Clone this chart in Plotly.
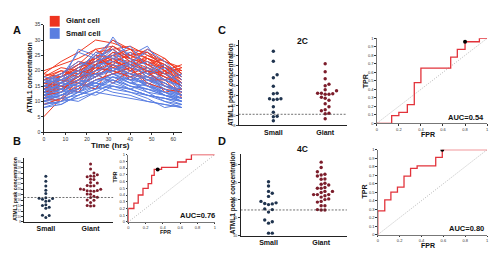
import plotly.graph_objects as go

W, H = 500, 258
def X(px): return px / W
def Y(py): return 1 - py / H

FONT = "Arial, Liberation Sans, sans-serif"
RED = "#f03a22"
BLUE = "#5b7fe2"
NAVY = "#20344f"
MAROON = "#7c1d2b"
ROCRED = "#e2333b"

# ---------- Panel A data ----------
time_hrs = [0, 8, 16, 24, 32, 40, 48, 56, 64]
giant_traces = [
    [5, 11, 17, 22, 25, 22, 20, 18, 16],
    [19, 23, 26, 30, 29, 27, 24, 22, 19],
    [20, 22, 24, 27, 28, 25, 22, 21, 20],
    [17, 19, 22, 24, 30, 27, 26, 23, 21],
    [15, 18, 20, 26, 27, 28, 25, 22, 18],
    [14, 16, 21, 23, 25, 24, 27, 24, 19],
    [13, 15, 14, 22, 19, 21, 15, 20, 17],
    [12, 14, 17, 21, 24, 23, 21, 19, 16],
    [18, 20, 19, 22, 26, 25, 23, 21, 17],
    [11, 10, 16, 14, 22, 17, 20, 13, 14],
    [16, 17, 20, 19, 23, 21, 25, 23, 20],
    [10, 12, 15, 18, 21, 19, 18, 16, 13],
    [15, 16, 19, 25, 24, 22, 20, 18, 15],
    [17, 18, 21, 23, 22, 26, 24, 22, 18],
    [12, 15, 13, 20, 26, 24, 19, 20, 11],
    [14, 17, 16, 21, 20, 22, 23, 20, 16],
    [19, 18, 21, 24, 27, 23, 24, 20, 22],
    [13, 14, 17, 19, 16, 20, 17, 17, 12],
    [16, 19, 23, 22, 25, 27, 22, 24, 19],
    [11, 16, 18, 24, 22, 20, 21, 18, 15],
    [15, 14, 18, 20, 23, 25, 26, 21, 18],
    [18, 21, 20, 23, 28, 24, 22, 19, 21],
    [12, 13, 19, 21, 20, 18, 20, 15, 14],
    [14, 18, 22, 27, 23, 22, 18, 22, 17],
    [9, 11, 14, 17, 19, 21, 16, 14, 13],
    [16, 15, 17, 22, 24, 20, 24, 21, 16],
    [13, 16, 20, 18, 22, 19, 21, 17, 19],
    [17, 20, 18, 25, 21, 23, 20, 19, 15],
]
small_traces = [
    [9, 10, 13, 17, 19, 16, 14, 12, 10],
    [10, 12, 15, 18, 22, 18, 15, 13, 11],
    [12, 14, 17, 20, 24, 20, 17, 15, 12],
    [14, 16, 27, 25, 30, 25, 28, 20, 14],
    [11, 13, 16, 14, 18, 15, 13, 10, 9],
    [15, 17, 20, 22, 27, 23, 26, 21, 15],
    [13, 15, 18, 19, 23, 21, 19, 16, 13],
    [8, 9, 12, 15, 13, 12, 10, 9, 8],
    [10, 11, 10, 13, 16, 14, 12, 11, 10],
    [12, 13, 16, 18, 20, 17, 16, 14, 11],
    [14, 15, 18, 21, 26, 22, 18, 17, 15],
    [16, 18, 21, 24, 28, 24, 22, 19, 16],
    [11, 12, 15, 16, 19, 19, 15, 13, 12],
    [9, 11, 12, 14, 15, 13, 11, 8, 9],
    [13, 14, 17, 20, 21, 18, 20, 15, 13],
    [10, 12, 14, 17, 17, 15, 14, 12, 10],
    [15, 16, 19, 21, 24, 26, 22, 18, 14],
    [12, 15, 18, 22, 19, 17, 18, 14, 12],
    [17, 19, 22, 23, 25, 21, 19, 17, 14],
    [8, 10, 11, 13, 12, 11, 10, 9, 8],
    [14, 13, 16, 19, 20, 18, 16, 13, 11],
    [11, 14, 16, 15, 18, 16, 17, 14, 12],
    [13, 12, 15, 18, 22, 20, 17, 15, 13],
    [10, 13, 17, 19, 16, 18, 15, 12, 10],
    [16, 17, 19, 22, 23, 20, 21, 17, 15],
    [12, 11, 14, 16, 14, 13, 12, 11, 9],
    [9, 10, 13, 12, 15, 14, 12, 10, 8],
    [15, 18, 20, 18, 21, 19, 17, 16, 13],
    [11, 13, 14, 17, 18, 17, 13, 12, 11],
    [13, 16, 15, 19, 20, 22, 18, 16, 12],
    [10, 9, 12, 14, 17, 15, 14, 13, 10],
    [14, 15, 17, 16, 19, 16, 15, 14, 12],
    [12, 14, 13, 15, 17, 14, 16, 12, 11],
    [17, 16, 18, 20, 22, 19, 18, 15, 14],
    [11, 12, 13, 16, 15, 14, 12, 11, 10],
    [16, 19, 23, 21, 31, 24, 20, 22, 17],
    [18, 17, 20, 26, 24, 22, 27, 23, 18],
    [13, 18, 26, 24, 27, 21, 23, 19, 16],
    [15, 14, 19, 23, 25, 28, 21, 17, 19],
    [12, 16, 21, 25, 20, 23, 19, 21, 15],
]

# ---------- Peak concentration data ----------
groups = ["Small", "Giant"]
b_small = [24.8, 23.0, 21.2, 19.7, 18.5, 16.9, 16.7, 16.6, 16.4, 15.8, 15.6, 14.3, 14.1, 13.4, 13.0, 10.5, 10.4, 9.6]
b_giant = [29.3, 27.5, 26.0, 25.4, 24.9, 24.8, 24.6, 23.7, 23.6, 22.5, 22.3, 21.3, 21.2, 21.4, 20.1, 20.0, 19.9,
           19.6, 19.5, 19.4, 19.3, 18.3, 18.2, 17.5, 17.1, 17.0, 16.1, 16.0, 15.2, 14.1, 14.0, 13.9]
b_thresh = 17.0
c_small = [22.8, 20.8, 18.1, 17.5, 15.8, 14.4, 14.3, 13.3, 13.2, 13.1, 13.3, 11.7, 10.6, 9.8, 9.7, 8.9]
c_giant = [20.3, 18.7, 17.3, 16.2, 15.9, 15.1, 14.9, 14.4, 14.3, 14.2, 14.4, 14.2, 13.6, 13.4, 13.0, 12.3, 11.7,
           11.1, 10.9, 10.4, 10.3, 9.3]
c_thresh = 10.2
d_small = [25.1, 23.9, 22.4, 21.9, 21.0, 19.6, 19.2, 19.0, 18.9, 18.7, 17.5, 17.3, 16.6, 14.4, 13.9, 13.5, 10.7, 10.7]
d_giant = [30.6, 29.1, 27.9, 27.2, 27.0, 26.7, 25.9, 25.8, 24.7, 24.4, 24.2, 23.5, 23.3, 23.3, 22.4, 22.4, 22.1,
           21.5, 21.5, 21.2, 21.5, 20.8, 20.3, 20.1, 19.6, 19.4, 18.4, 18.4, 17.3, 17.2, 17.2]
d_thresh = 17.2

# ---------- ROC data ----------
roc_b_fpr = [0, 0, 0.065, 0.115, 0.17, 0.23, 0.27, 0.30, 0.385, 0.57, 0.67, 0.73, 1]
roc_b_tpr = [0, 0.2, 0.28, 0.4, 0.5, 0.57, 0.69, 0.78, 0.81, 0.89, 0.93, 1, 1]
roc_b_opt = (0.34, 0.78)
roc_c_fpr = [0, 0.135, 0.2, 0.277, 0.34, 0.40, 0.67, 0.73, 0.80, 0.93, 1]
roc_c_tpr = [0, 0.09, 0.13, 0.22, 0.48, 0.65, 0.78, 0.87, 0.96, 1, 1]
roc_c_opt = (0.80, 0.96)
roc_d_fpr = [0, 0, 0.064, 0.12, 0.18, 0.24, 0.30, 0.36, 0.53, 0.59, 1]
roc_d_tpr = [0, 0.28, 0.41, 0.5, 0.56, 0.69, 0.78, 0.81, 0.91, 1, 1]
roc_d_opt = (0.59, 1.0)
auc_b, auc_c, auc_d = "0.76", "0.54", "0.80"


def swarm(vals, ppu_y, ppu_x, d):
    """simple beeswarm: returns x offsets (in axis units) computed from values"""
    placed = []
    offs = [0.0] * len(vals)
    order = sorted(range(len(vals)), key=lambda i: vals[i])
    cands = [0]
    for j in range(1, 40):
        cands += [j, -j]
    for i in order:
        y = vals[i] * ppu_y
        for c in cands:
            x = c * d
            if all((x - px) ** 2 + (y - py) ** 2 >= d * d * 0.95 for px, py in placed):
                placed.append((x, y))
                offs[i] = x / ppu_x
                break
    return offs


fig = go.Figure()

# ---------- Panel A ----------
n = max(len(giant_traces), len(small_traces))
for k in range(n):
    if k < len(small_traces):
        fig.add_trace(go.Scatter(x=time_hrs, y=small_traces[k], mode="lines",
                                 line=dict(color=BLUE, width=1), xaxis="x", yaxis="y",
                                 showlegend=False, hoverinfo="skip"))
    if k < len(giant_traces):
        fig.add_trace(go.Scatter(x=time_hrs, y=giant_traces[k], mode="lines",
                                 line=dict(color=RED, width=1), xaxis="x", yaxis="y",
                                 showlegend=False, hoverinfo="skip"))

# ---------- Scatter panels ----------
def add_swarm(small, giant, thresh, xa, ya, ppu_y, ppu_x, xr, d=3.6, msize=3.2):
    for gi, (vals, col) in enumerate([(small, NAVY), (giant, MAROON)]):
        offs = swarm(vals, ppu_y, ppu_x, d)
        fig.add_trace(go.Scatter(x=[gi + o for o in offs], y=vals, mode="markers",
                                 marker=dict(color=col, size=msize, line=dict(width=0)),
                                 xaxis=xa, yaxis=ya, showlegend=False, hoverinfo="skip"))
    fig.add_trace(go.Scatter(x=xr, y=[thresh, thresh], mode="lines",
                             line=dict(color="#333", width=0.7, dash="2px,1.5px"),
                             xaxis=xa, yaxis=ya, showlegend=False, hoverinfo="skip"))

add_swarm(b_small, b_giant, b_thresh, "x2", "y2", 2.78, 45, [-0.49, 1.51], d=3.4, msize=3)
add_swarm(c_small, c_giant, c_thresh, "x4", "y4", 5.12, 52, [-0.67, 1.42], d=3.8, msize=3.4)
add_swarm(d_small, d_giant, d_thresh, "x6", "y6", 3.65, 53, [-0.53, 1.49], d=3.8, msize=3.4)

# ---------- ROC panels ----------
def add_roc(fpr, tpr, opt, xa, ya):
    fig.add_trace(go.Scatter(x=[0, 1], y=[0, 1], mode="lines",
                             line=dict(color="#9a9a9a", width=0.7, dash="1px,1.5px"),
                             xaxis=xa, yaxis=ya, showlegend=False, hoverinfo="skip"))
    fig.add_trace(go.Scatter(x=fpr, y=tpr, mode="lines", line=dict(color=ROCRED, width=1.3, shape="hv"),
                             xaxis=xa, yaxis=ya, showlegend=False, hoverinfo="skip"))
    fig.add_trace(go.Scatter(x=[opt[0]], y=[opt[1]], mode="markers", marker=dict(color="black", size=4),
                             xaxis=xa, yaxis=ya, showlegend=False, hoverinfo="skip"))

add_roc(roc_b_fpr, roc_b_tpr, roc_b_opt, "x3", "y3")
add_roc(roc_c_fpr, roc_c_tpr, roc_c_opt, "x5", "y5")
add_roc(roc_d_fpr, roc_d_tpr, roc_d_opt, "x7", "y7")

tiny = dict(family=FONT, size=4, color="#333")
def ax(dom, rng, anchor, **kw):
    d = dict(domain=dom, range=rng, anchor=anchor, showgrid=False, zeroline=False,
             showline=True, linecolor="#222", linewidth=0.9, ticks="outside", ticklen=1.5,
             tickwidth=0.6, tickcolor="#333", tickfont=tiny)
    d.update(kw)
    return d

roc_y = dict(tickvals=[i / 10 for i in range(11)],
             ticktext=["0"] + ["0.%d" % i for i in range(1, 10)] + ["1"])
roc_x = dict(tickvals=[0, 0.2, 0.4, 0.6, 0.8, 1], ticktext=["0", "0.2", "0.4", "0.6", "0.8", "1"])
cat_x = dict(tickvals=[0, 1], ticktext=["<b>%s</b>" % g for g in groups], ticks="",
             tickfont=dict(family=FONT, size=7, color="#111"))

layout = dict(
    width=W, height=H, margin=dict(l=0, r=0, t=0, b=0),
    paper_bgcolor="white", plot_bgcolor="white", showlegend=False,
    font=dict(family=FONT),
    # A
    xaxis=ax([X(35), X(174)], [0, 64], "y", tickvals=[0, 10, 20, 30, 40, 50, 60],
             tickfont=dict(family=FONT, size=5, color="#333")),
    yaxis=ax([Y(124), Y(14)], [0, 35], "x", tickvals=[0, 5, 10, 15, 20, 25, 30, 35],
             tickfont=dict(family=FONT, size=5, color="#333")),
    # B scatter
    xaxis2=ax([X(15), X(105)], [-0.49, 1.51], "y2", **cat_x),
    yaxis2=ax([Y(216), Y(150)], [8, 31.7], "x2", tickvals=list(range(8, 31, 2)),
              tickfont=dict(family=FONT, size=3, color="#444")),
    # B ROC
    xaxis3=ax([X(120), X(207)], [0, 1], "y3", linecolor="#777", **roc_x),
    yaxis3=ax([Y(216), Y(147)], [0, 1], "x3", linecolor="#777", **roc_y),
    # C scatter
    xaxis4=ax([X(231), X(340)], [-0.67, 1.42], "y4", **cat_x),
    yaxis4=ax([Y(117), Y(30)], [8, 25], "x4", tickvals=list(range(8, 25, 2))),
    # C ROC
    xaxis5=ax([X(370), X(481)], [0, 1], "y5", linecolor="#777", **roc_x),
    yaxis5=ax([Y(115), Y(28)], [0, 1], "x5", linecolor="#777", **roc_y),
    # D scatter
    xaxis6=ax([X(233), X(340)], [-0.53, 1.49], "y6", **cat_x),
    yaxis6=ax([Y(230), Y(146)], [10, 33], "x6", tickvals=[10, 15, 20, 25, 30]),
    # D ROC
    xaxis7=ax([X(371), X(481)], [0, 1], "y7", linecolor="#777", **roc_x),
    yaxis7=ax([Y(229), Y(142)], [0, 1], "x7", linecolor="#777", **roc_y),
)
fig.update_layout(**layout)

def txt(px, py, s, size, angle=0, xanchor="center", color="#111"):
    return dict(x=X(px), y=Y(py), xref="paper", yref="paper", text=s, showarrow=False,
                textangle=angle, xanchor=xanchor, yanchor="middle",
                font=dict(family=FONT, size=size, color=color))

ann = [
    txt(8, 19, "<b>A</b>", 11), txt(8, 133, "<b>B</b>", 11),
    txt(214, 19, "<b>C</b>", 11), txt(214, 133, "<b>D</b>", 11),
    txt(55, 10, "<b>Giant cell</b>", 7.5, xanchor="left"),
    txt(55, 23, "<b>Small cell</b>", 7.5, xanchor="left"),
    txt(102, 138, "<b>Time (hrs)</b>", 8),
    txt(21, 68, "<b>ATML1 concentration</b>", 7, angle=-90),
    txt(6, 182, "<b>ATML1 peak concentration</b>", 5, angle=-90),
    txt(224, 75, "<b>ATML1 peak concentration</b>", 6.5, angle=-90),
    txt(225, 186, "<b>ATML1 peak concentration</b>", 6.5, angle=-90),
    txt(295, 31, "<b>2C</b>", 8.5), txt(295, 141, "<b>4C</b>", 8.5),
    txt(107, 170, "<b>TPR</b>", 5.5, angle=-90), txt(157, 226, "<b>FPR</b>", 5.5),
    txt(190, 209, "<b>AUC=%s</b>" % auc_b, 7.5),
    txt(358, 72, "<b>TPR</b>", 7, angle=-90), txt(422, 126, "<b>FPR</b>", 7),
    txt(460, 109, "<b>AUC=%s</b>" % auc_c, 7.5),
    txt(358, 185, "<b>TPR</b>", 7, angle=-90), txt(422, 240, "<b>FPR</b>", 7),
    txt(460, 223, "<b>AUC=%s</b>" % auc_d, 7.5),
]
fig.update_layout(annotations=ann)

shapes = [
    dict(type="rect", xref="paper", yref="paper", x0=X(41), x1=X(51), y0=Y(16), y1=Y(5),
         fillcolor="#ee3420", line=dict(width=0)),
    dict(type="rect", xref="paper", yref="paper", x0=X(41), x1=X(51), y0=Y(28.5), y1=Y(17.5),
         fillcolor="#5a7ee0", line=dict(width=0)),
]
fig.update_layout(shapes=shapes)

fig.write_html("out.html")
